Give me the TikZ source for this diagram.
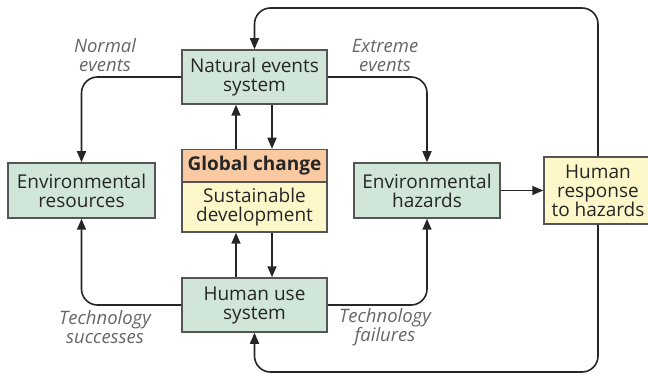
\documentclass[tikz,border=0pt]{standalone}
\usepackage{fontspec}
\setmainfont{Open Sans}
\usetikzlibrary{arrows.meta, positioning}

\definecolor{boxgreen}{HTML}{CFE6D8}
\definecolor{boxorange}{HTML}{F9C9A1}
\definecolor{boxyellow}{HTML}{FDF7C9}
\definecolor{linegray}{HTML}{555555}
\definecolor{labelgray}{HTML}{666666}

\begin{document}
\begin{tikzpicture}[x=1pt, y=-1pt,
    font=\fontsize{19}{19}\selectfont,
    sysbox/.style={draw=linegray, line width=1.5pt, rectangle, fill=boxgreen, align=center,
        text=black!85, minimum width=145pt, minimum height=54pt, inner sep=0pt},
    flow/.style={-{Triangle[length=11pt, width=9pt]}, line width=1.6pt, black!85, rounded corners=16pt},
    note/.style={align=center, text=labelgray, font=\fontsize{18.5}{19}\selectfont\itshape}]

    \useasboundingbox (0,0) rectangle (648,374);

    % Nodes
    \node[sysbox] (nat) at (254.5, 77) {Natural events\\system};
    \node[sysbox, minimum height=33pt, fill=boxorange, font=\fontsize{19}{19}\selectfont\bfseries] (glob) at (254.5, 166) {Global change};
    \node[sysbox, minimum height=50pt, fill=boxyellow] (sust) at (254.5, 207) {Sustainable\\development};
    \node[sysbox, minimum width=147pt, minimum height=55pt] (res) at (81.5, 190.5) {Environmental\\resources};
    \node[sysbox, minimum width=146pt, minimum height=55pt] (haz) at (427, 190.5) {Environmental\\hazards};
    \node[sysbox, minimum width=108pt, minimum height=67pt, fill=boxyellow] (resp) at (598, 190.5) {Human\\response\\to hazards};
    \node[sysbox] (use) at (254.5, 305) {Human use\\system};

    \node[note] (normal) at (105, 55) {Normal\\events};
    \node[note] (extreme) at (385, 55) {Extreme\\events};
    \node[note] (succ) at (105, 327) {Technology\\successes};
    \node[note] (fail) at (385, 327) {Technology\\failures};

    \coordinate (ttop) at (430, 8);
    \coordinate (tbot) at (430, 372);

    % Arrows
    \draw[flow] (nat.west) -| (res.north);
    \draw[flow] (nat.east) -| (haz.north);
    \draw[flow] (use.west) -| (res.south);
    \draw[flow] (use.east) -| (haz.south);
    \draw[flow] (haz.east) -- (resp.west);
    \draw[flow] ([xshift=-18.5pt]glob.north) -- ([xshift=-18.5pt]nat.south);
    \draw[flow] ([xshift=17.5pt]nat.south) -- ([xshift=17.5pt]glob.north);
    \draw[flow] ([xshift=-18.5pt]use.north) -- ([xshift=-18.5pt]sust.south);
    \draw[flow] ([xshift=17.5pt]sust.south) -- ([xshift=17.5pt]use.north);
    \draw[flow] (resp.north) |- (ttop) -| (nat.north);
    \draw[flow] (resp.south) |- (tbot) -| (use.south);

\end{tikzpicture}
\end{document}
